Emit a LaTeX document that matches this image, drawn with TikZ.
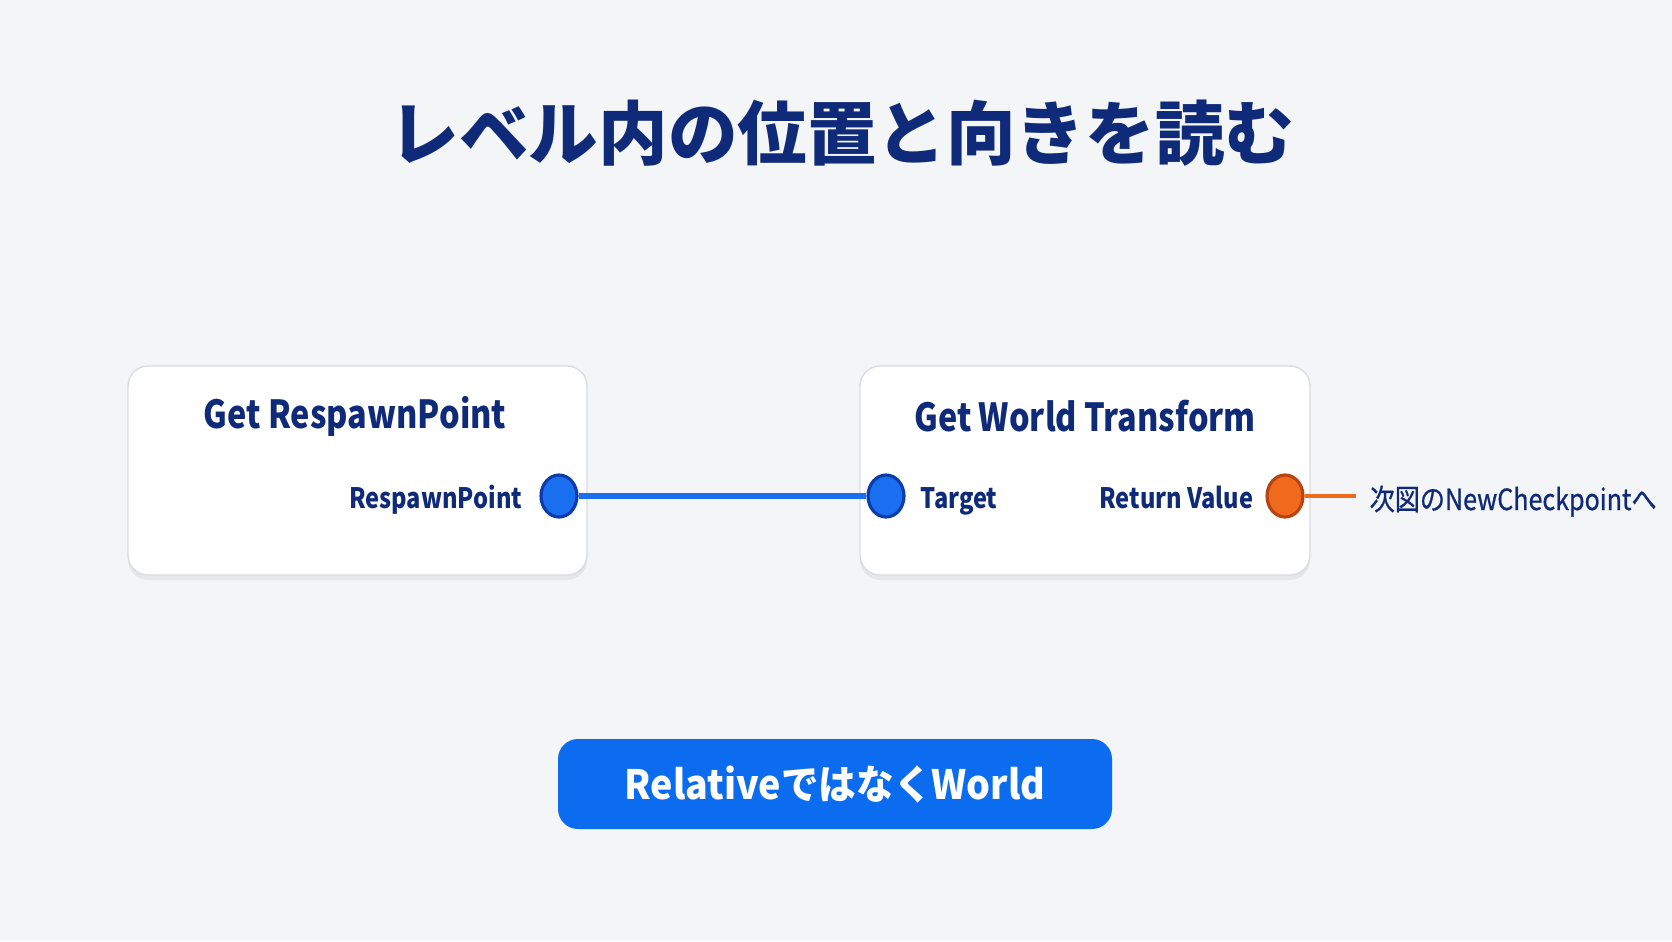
\documentclass[tikz,border=0pt]{standalone}
\usepackage{fontspec}
\setmainfont{Noto Sans CJK JP}
\newfontfamily\narrowfont[FakeStretch=0.84]{Noto Sans CJK JP}
\newfontfamily\notefont[FakeStretch=0.86, FakeBold=0.8]{Noto Sans CJK JP}
\newfontfamily\btnfont[FakeStretch=0.93]{Noto Sans CJK JP}
\usetikzlibrary{shapes.geometric, shadows}
\definecolor{bg}{HTML}{F4F5F7}
\definecolor{navy}{HTML}{0E2A78}
\definecolor{frame}{HTML}{D9DCE2}
\definecolor{pinblue}{HTML}{1A6EF0}
\definecolor{pinblueline}{HTML}{0B3DAA}
\definecolor{pinorange}{HTML}{F06A1E}
\definecolor{pinorangeline}{HTML}{B8440E}
\definecolor{btn}{HTML}{0B6CF0}

\begin{document}
\begin{tikzpicture}[every node/.style={text=navy},
		box/.style={draw=frame, fill=white, rounded corners=0.2cm, minimum width=4.59cm, minimum height=2.09cm,
			drop shadow={opacity=0.12, shadow xshift=0cm, shadow yshift=-0.05cm}},
		pin/.style={ellipse, draw=#1line, fill=#1, line width=0.9pt, minimum width=0.36cm, minimum height=0.42cm, inner sep=0pt},
		head/.style={font=\narrowfont\fontsize{11}{13}\selectfont\bfseries},
		lbl/.style={font=\narrowfont\fontsize{8}{10}\selectfont\bfseries, inner sep=0pt}]
	\fill[bg] (0, 0) rectangle (16.72, -9.41);
	\useasboundingbox (0, 0) rectangle (16.72, -9.41);

	\node[font=\fontsize{19.8}{24}\selectfont\bfseries] (title) at (8.42, -1.33) {レベル内の位置と向きを読む};

	\node[box] (getrp) at (3.575, -4.705) {};
	\node[box, minimum width=4.50cm] (getwt) at (10.85, -4.705) {};
	\node[head] (rphead) at (3.55, -4.16) {Get RespawnPoint};
	\node[head] (wthead) at (10.85, -4.16) {Get World Transform};

	\node[pin=pinblue] (rp) at (5.59, -4.96) {};
	\node[pin=pinblue] (tg) at (8.86, -4.96) {};
	\node[pin=pinorange] (rv) at (12.85, -4.96) {};
	\node[lbl, anchor=base east] (rplbl) at (5.23, -5.08) {RespawnPoint};
	\node[lbl, anchor=base west] (tglbl) at (9.20, -5.08) {Target};
	\node[lbl, anchor=base east] (rvlbl) at (12.54, -5.08) {Return Value};

	\coordinate (out) at (13.56, -4.96);
	\node[font=\notefont\fontsize{8.3}{10}\selectfont, anchor=base west, inner sep=0pt] (next) at (13.69, -5.10) {次図のNewCheckpointへ};

	\draw[pinblue, line width=1.5pt] (rp) edge (tg);
	\draw[pinorange, line width=1.3pt] (rv) edge (out);

	\node[fill=btn, text=white, rounded corners=0.2cm, minimum width=5.54cm, minimum height=0.9cm,
		font=\btnfont\fontsize{11.5}{14}\selectfont\bfseries] (note) at (8.35, -7.84) {RelativeではなくWorld};
\end{tikzpicture}
\end{document}
